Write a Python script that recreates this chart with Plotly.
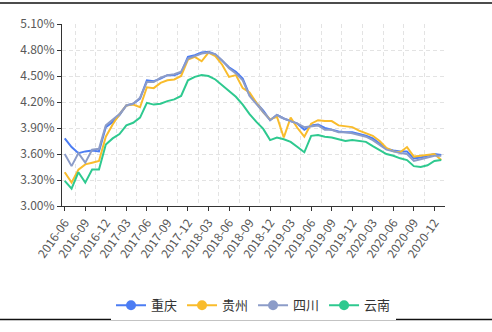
import plotly.graph_objects as go

# Monthly observations, 2016-06 through 2021-01
months = [f"{y}-{m:02d}" for y in range(2016, 2022) for m in range(1, 13)][5:61]
tick_idx = list(range(0, len(months), 3))
tick_labels = [months[i] for i in tick_idx]

chongqing = [3.78, 3.68, 3.61, 3.63, 3.64, 3.63, 3.91, 3.97, 4.05, 4.16,
             4.18, 4.24, 4.45, 4.44, 4.47, 4.51, 4.51, 4.54, 4.72, 4.74,
             4.77, 4.78, 4.75, 4.68, 4.60, 4.55, 4.47, 4.28, 4.19, 4.10,
             3.99, 4.05, 4.01, 3.98, 3.95, 3.88, 3.93, 3.94, 3.90, 3.88,
             3.86, 3.85, 3.85, 3.83, 3.81, 3.78, 3.72, 3.66, 3.64, 3.63,
             3.63, 3.55, 3.56, 3.58, 3.60, 3.59]
guizhou = [3.39, 3.27, 3.42, 3.48, 3.50, 3.52, 3.80, 3.94, 4.06, 4.16,
           4.17, 4.14, 4.37, 4.36, 4.42, 4.45, 4.46, 4.50, 4.69, 4.72,
           4.67, 4.77, 4.73, 4.63, 4.49, 4.51, 4.36, 4.31, 4.19, 4.08,
           4.00, 4.03, 3.79, 4.02, 3.90, 3.80, 3.95, 3.99, 3.98, 3.98,
           3.93, 3.92, 3.91, 3.87, 3.84, 3.81, 3.75, 3.67, 3.63, 3.62,
           3.68, 3.57, 3.58, 3.59, 3.60, 3.53]
sichuan = [3.60, 3.46, 3.61, 3.50, 3.65, 3.66, 3.93, 3.99, 4.06, 4.16,
           4.18, 4.25, 4.43, 4.43, 4.48, 4.51, 4.52, 4.55, 4.70, 4.73,
           4.76, 4.77, 4.75, 4.68, 4.59, 4.53, 4.45, 4.27, 4.18, 4.09,
           3.99, 4.05, 4.01, 3.98, 3.95, 3.91, 3.92, 3.93, 3.88, 3.88,
           3.85, 3.85, 3.84, 3.82, 3.80, 3.76, 3.70, 3.65, 3.63, 3.61,
           3.60, 3.52, 3.54, 3.56, 3.58, 3.58]
yunnan = [3.29, 3.20, 3.39, 3.27, 3.42, 3.42, 3.71, 3.78, 3.83, 3.93,
          3.96, 4.02, 4.19, 4.17, 4.18, 4.21, 4.23, 4.27, 4.45, 4.49,
          4.51, 4.50, 4.46, 4.39, 4.32, 4.26, 4.17, 4.06, 3.97, 3.89,
          3.76, 3.79, 3.77, 3.74, 3.68, 3.62, 3.81, 3.82, 3.80, 3.79,
          3.77, 3.75, 3.76, 3.75, 3.74, 3.69, 3.645, 3.60, 3.58, 3.55,
          3.53, 3.46, 3.45, 3.47, 3.52, 3.53]

series = [
    ("重庆", chongqing, "#4b7cf3"),
    ("贵州", guizhou, "#f9bc2c"),
    ("四川", sichuan, "#8c9cc8"),
    ("云南", yunnan, "#2ec98f"),
]

y_ticks = [3.00, 3.30, 3.60, 3.90, 4.20, 4.50, 4.80, 5.10]

FONT = "Noto Sans CJK SC, Noto Sans, sans-serif"

fig = go.Figure()
x = list(range(len(months)))
for name, vals, color in series:
    fig.add_trace(go.Scatter(
        x=x, y=vals, mode="lines", name=name, legendgroup=name,
        showlegend=False, text=months,
        line=dict(color=color, width=2),
        hovertemplate="%{text}: %{y:.2f}%<extra>" + name + "</extra>",
    ))
    # legend entry: line with a dot
    fig.add_trace(go.Scatter(
        x=[None], y=[None], mode="lines+markers", name=name, legendgroup=name,
        line=dict(color=color, width=2),
        marker=dict(color=color, size=10),
    ))

L, R, T, B = 62, 47, 24, 121
W, H = 492, 332
pw, ph = W - L - R, H - T - B

fig.update_layout(
    width=W, height=H,
    margin=dict(l=L, r=R, t=T, b=B, pad=0),
    paper_bgcolor="white", plot_bgcolor="white",
    font=dict(family=FONT, size=12, color="#595959"),
    showlegend=True,
    legend=dict(
        orientation="h", x=0.5, xanchor="center",
        y=(T + ph - 313) / ph, yanchor="middle",
        font=dict(family=FONT, size=13, color="#333333"),
        itemwidth=30, tracegroupgap=0,
    ),
    xaxis=dict(
        range=[-0.4, 55.55],
        tickmode="array", tickvals=tick_idx, ticktext=tick_labels,
        tickangle=-55,
        showline=True, linecolor="#333333", linewidth=1,
        ticks="outside", ticklen=4, tickcolor="#333333",
        showgrid=False, zeroline=False,
        minor=dict(tickmode="array",
                   tickvals=[i + 1.5 for i in tick_idx],
                   showgrid=True, gridcolor="#e3e3e3", griddash="4px,3px",
                   gridwidth=1, ticks=""),
        tickfont=dict(size=12, color="#595959"),
    ),
    yaxis=dict(
        range=[3.0, 5.1],
        tickmode="array", tickvals=y_ticks,
        ticktext=[f"{v:.2f}%" for v in y_ticks],
        showline=True, linecolor="#333333", linewidth=1,
        ticks="outside", ticklen=4, tickcolor="#333333",
        showgrid=True, gridcolor="#e3e3e3", griddash="4px,3px", gridwidth=1,
        zeroline=False,
        tickfont=dict(size=12, color="#595959"),
    ),
)

# frame rules above and below the chart
for ypx in (2.5, 327.5):
    yp = (T + ph - ypx) / ph
    fig.add_shape(type="line", xref="paper", yref="paper",
                  x0=-L / pw, x1=(W - L) / pw, y0=yp, y1=yp,
                  line=dict(color="#111111", width=1.5))

fig.write_html("out.html")
